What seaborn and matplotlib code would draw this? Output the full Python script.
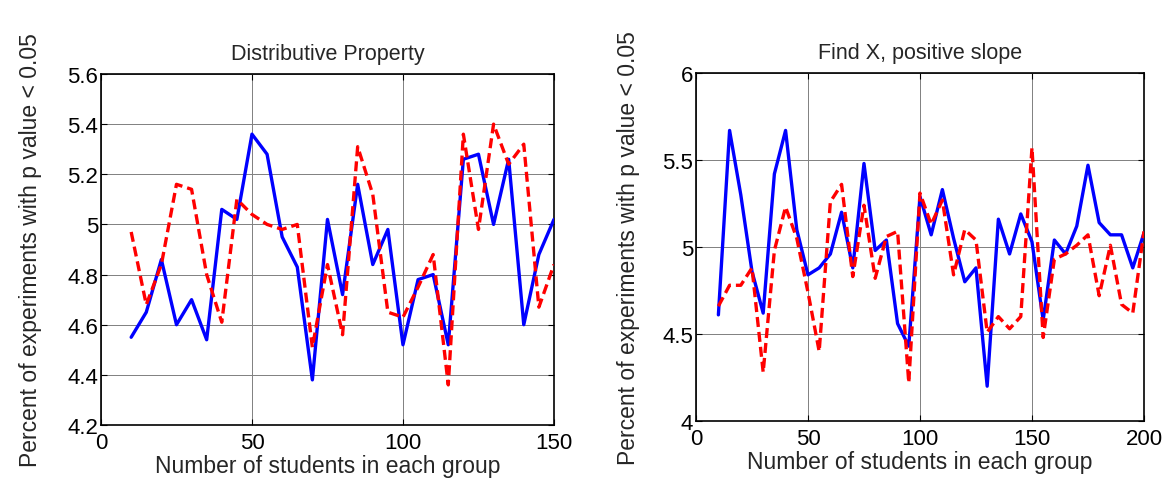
import numpy as np
import pandas as pd
import matplotlib
matplotlib.use("Agg")
import matplotlib.pyplot as plt
import seaborn as sns

# ---- data ----
x_left = list(range(10, 151, 5))
blue_left = [4.55, 4.65, 4.86, 4.60, 4.70, 4.54, 5.06, 5.02, 5.36, 5.28,
             4.95, 4.83, 4.38, 5.02, 4.72, 5.16, 4.84, 4.98, 4.52, 4.78,
             4.80, 4.52, 5.26, 5.28, 5.00, 5.26, 4.60, 4.88, 5.02]
red_left = [4.97, 4.68, 4.84, 5.16, 5.14, 4.80, 4.61, 5.10, 5.04, 5.00,
            4.98, 5.00, 4.51, 4.84, 4.56, 5.31, 5.12, 4.65, 4.63, 4.75,
            4.88, 4.36, 5.36, 4.98, 5.40, 5.24, 5.32, 4.67, 4.84]

x_right = list(range(10, 201, 5))
blue_right = [4.61, 5.67, 5.30, 4.86, 4.62, 5.42, 5.67, 5.10, 4.84, 4.88,
              4.96, 5.20, 4.88, 5.48, 4.98, 5.04, 4.56, 4.43, 5.29, 5.07,
              5.33, 5.05, 4.80, 4.88, 4.20, 5.16, 4.96, 5.19, 5.03, 4.58,
              5.04, 4.96, 5.12, 5.47, 5.14, 5.07, 5.07, 4.88, 5.08]
red_right = [4.66, 4.78, 4.78, 4.88, 4.28, 4.98, 5.23, 5.05, 4.74, 4.40,
             5.26, 5.36, 4.83, 5.24, 4.82, 5.06, 5.09, 4.22, 5.31, 5.13,
             5.27, 4.84, 5.10, 5.04, 4.51, 4.60, 4.53, 4.60, 5.57, 4.48,
             4.93, 4.96, 5.01, 5.07, 4.72, 5.01, 4.67, 4.62, 5.09]

titles = ["Distributive Property", "Find X, positive slope"]
xlabel = "Number of students in each group"
ylabel = "Percent of experiments with p value < 0.05"
xlims = [(0, 150), (0, 200)]
ylims = [(4.2, 5.6), (4.0, 6.0)]
xticks = [[0, 50, 100, 150], [0, 50, 100, 150, 200]]
yticks = [[4.2, 4.4, 4.6, 4.8, 5.0, 5.2, 5.4, 5.6], [4.0, 4.5, 5.0, 5.5, 6.0]]
yticklabels = [["4.2", "4.4", "4.6", "4.8", "5", "5.2", "5.4", "5.6"],
               ["4", "4.5", "5", "5.5", "6"]]

sns.set_theme(style="white")
plt.rcParams["font.family"] = ["Liberation Sans", "DejaVu Sans"]

fig = plt.figure(figsize=(11.66, 4.85), dpi=100)
positions = [[0.0866, 0.1216, 0.3885, 0.7238], [0.5969, 0.1299, 0.3842, 0.7175]]

datasets = [(x_left, blue_left, red_left), (x_right, blue_right, red_right)]
for i, (xs, b, r) in enumerate(datasets):
    ax = fig.add_axes(positions[i])
    df = pd.DataFrame({"x": xs + xs, "y": b + r,
                       "series": ["blue"] * len(xs) + ["red"] * len(xs)})
    sns.lineplot(data=df, x="x", y="y", hue="series", style="series",
                 palette={"blue": "#0000ff", "red": "#ff0000"},
                 dashes={"blue": "", "red": (3, 1.5)},
                 linewidth=2.4, legend=False, ax=ax, zorder=3)
    ax.set_xlim(*xlims[i])
    ax.set_ylim(*ylims[i])
    ax.set_xticks(xticks[i])
    ax.set_yticks(yticks[i])
    ax.set_yticklabels(yticklabels[i])
    ax.grid(True, color="#808080", linewidth=0.7)
    ax.tick_params(direction="in", length=4, width=0.8, labelsize=16,
                   top=True, right=True, bottom=True, left=True,
                   colors="black")
    ax.tick_params(axis="x", pad=5)
    ax.tick_params(axis="y", pad=2)
    for s in ax.spines.values():
        s.set_color("black")
        s.set_linewidth(1.2)
        s.set_visible(True)
    ax.set_title(titles[i], fontsize=15.5, pad=11)
    ax.set_xlabel(xlabel, fontsize=16.5, labelpad=1)
    ax.set_ylabel(ylabel, fontsize=16.5, labelpad=18 if i == 0 else 16)

fig.savefig("out.png", dpi=100)
